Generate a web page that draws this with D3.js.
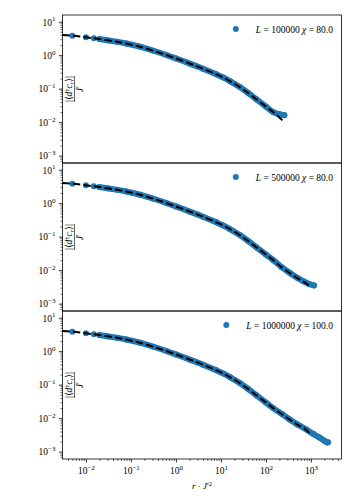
<!DOCTYPE html>
<html>
<head>
<meta charset="utf-8">
<script src="https://cdn.jsdelivr.net/npm/d3@7"></script>
<style>
  body { margin: 0; background: #fff; }
  text { font-family: "Liberation Serif", "DejaVu Serif", serif; fill: #000; }
</style>
</head>
<body>
<div id="chart"></div>
<script>
// shared head of every curve (r, value)
var headR = [0.005, 0.01, 0.015, 0.02, 0.03, 0.05, 0.079, 0.158, 0.316, 0.631, 1, 2, 4, 7.94, 11.2, 15.8, 26.3, 39.8, 61.7, 100, 145]
var headV = [3.82, 3.42, 3.19, 3.02, 2.78, 2.50, 2.23, 1.79, 1.355, 0.993, 0.80, 0.566, 0.395, 0.268, 0.217, 0.169, 0.1117, 0.0753, 0.0482, 0.0293, 0.0200]
var fitStartR = 0.003, fitStartV = 3.98

// data tails per panel
var tailR1 = [200, 257], tailV1 = [0.0172, 0.0162]
var tailR2 = [224, 339, 500, 676, 891, 1175], tailV2 = [0.0123, 0.0083, 0.0059, 0.0047, 0.0039, 0.0035]
var tailR3 = [224, 339, 500, 794, 1122, 1585, 1995, 2290, 2400], tailV3 = [0.0135, 0.0091, 0.0065, 0.0046, 0.0034, 0.0026, 0.0021, 0.00186, 0.0019]

// fit tails per panel
var fitTailR1 = [240], fitTailV1 = [0.011]
var fitTailR2 = [224, 339, 500, 676, 955], fitTailV2 = [0.0121, 0.0082, 0.0058, 0.0046, 0.0033]
var fitTailR3 = [224, 339, 500, 794, 955], fitTailV3 = [0.0133, 0.0090, 0.0064, 0.0044, 0.0034]

var labels = [["100000", "80.0"], ["500000", "80.0"], ["1000000", "100.0"]]
var yMajors = [1e-3, 1e-2, 1e-1, 1, 10]
var xMajors = [1e-2, 1e-1, 1, 10, 100, 1000]
var supers = {"-3": "\u22123", "-2": "\u22122", "-1": "\u22121", "0": "0", "1": "1", "2": "2", "3": "3"}

var margin = {top: 15, left: 62.5},
    width = 279,
    ph = 148;

var svg = d3.select("#chart").append("svg")
  .attr("width", 350).attr("height", 500)

var x = d3.scaleLog().domain([Math.pow(10, -2.52), Math.pow(10, 3.68)]).range([0, width])
var y = d3.scaleLog().domain([Math.pow(10, -3.22), Math.pow(10, 1.2)]).range([ph, 0])

function minors(dom){
  var out = []
  for (var e = -5; e <= 4; e++){
    for (var m = 2; m <= 9; m++){
      var v = m * Math.pow(10, e)
      if (v >= dom[0] && v <= dom[1]) out.push(v)
    }
  }
  return out
}

function pow10(sel, v){
  var e = Math.round(Math.log10(v))
  sel.text("10")
  sel.append("tspan").attr("dy", -4.2).attr("font-size", 7).text(supers[String(e)])
}

var line = d3.line().x(function(d){ return x(d[0]) }).y(function(d){ return y(d[1]) }).curve(d3.curveMonotoneX)

var tails = [[tailR1, tailV1, fitTailR1, fitTailV1], [tailR2, tailV2, fitTailR2, fitTailV2], [tailR3, tailV3, fitTailR3, fitTailV3]]

tails.forEach(function(t, i){
  var g = svg.append("g").attr("transform", "translate(" + margin.left + "," + (margin.top + i * ph) + ")")

  var pts = headR.map(function(r, k){ return [r, headV[k]] })
    .concat(t[0].map(function(r, k){ return [r, t[1][k]] }))
  var fit = [[fitStartR, fitStartV]].concat(headR.map(function(r, k){ return [r, headV[k]] }).filter(function(d){ return d[0] < t[2][0] }))
    .concat(t[2].map(function(r, k){ return [r, t[3][k]] }))

  // y axis majors
  var ya = g.append("g").call(d3.axisLeft(y).tickValues(yMajors).tickSize(3.5).tickPadding(3).tickFormat(""))
  ya.select(".domain").remove()
  ya.selectAll(".tick line").attr("stroke", "#000").attr("stroke-width", 0.8)
  ya.selectAll(".tick").each(function(d){
    var tx = d3.select(this).append("text").attr("x", -7).attr("dy", "0.35em")
      .attr("text-anchor", "end").attr("font-size", 9.5)
    pow10(tx, d)
  })
  var ym = g.append("g").call(d3.axisLeft(y).tickValues(minors(y.domain())).tickSize(2).tickFormat(""))
  ym.select(".domain").remove()
  ym.selectAll(".tick line").attr("stroke", "#000").attr("stroke-width", 0.6)

  // blue data
  g.append("path").datum(pts.filter(function(d){ return d[0] >= 0.02 }))
    .attr("fill", "none").attr("stroke", "#1f77b4").attr("stroke-width", 6)
    .attr("stroke-linecap", "round").attr("stroke-linejoin", "round").attr("d", line)
  g.selectAll(".dot").data(pts).enter().append("circle")
    .attr("cx", function(d){ return x(d[0]) }).attr("cy", function(d){ return y(d[1]) })
    .attr("r", 3).attr("fill", "#1f77b4")

  // fit
  g.append("path").datum(fit).attr("fill", "none").attr("stroke", "#000")
    .attr("stroke-width", 2).attr("stroke-dasharray", "7.4,3.2").attr("d", line)

  // frame
  g.append("rect").attr("width", width).attr("height", ph)
    .attr("fill", "none").attr("stroke", "#000").attr("stroke-width", 0.8)

  // legend
  var lt = g.append("text").attr("x", 333 - margin.left).attr("y", 17.5)
    .attr("text-anchor", "end").attr("font-size", 9.5)
  lt.append("tspan").attr("font-style", "italic").text("L")
  lt.append("tspan").text(" = " + labels[i][0] + " ")
  lt.append("tspan").attr("font-style", "italic").text("\u03c7")
  lt.append("tspan").text(" = " + labels[i][1])
  var tw = lt.node().getComputedTextLength()
  g.append("circle").attr("cx", 333 - margin.left - tw - 20).attr("cy", 14).attr("r", 3).attr("fill", "#1f77b4")

  // y label
  var yl = g.append("g").attr("transform", "translate(12," + (ph / 2) + ") rotate(-90)")
  var num = yl.append("text").attr("y", -2.5).attr("text-anchor", "middle").attr("font-size", 9.5)
  num.append("tspan").text("|\u27e8")
  num.append("tspan").attr("font-style", "italic").text("d")
  num.append("tspan").attr("dy", -3.5).attr("font-size", 6.5).text("\u2020")
  num.append("tspan").attr("dy", 3.5).attr("font-style", "italic").text("c")
  num.append("tspan").attr("dy", 2).attr("font-size", 6.5).attr("font-style", "italic").text("r")
  num.append("tspan").attr("dy", -2).text("\u27e9|")
  var nw = num.node().getComputedTextLength()
  yl.append("line").attr("x1", -nw / 2).attr("x2", nw / 2).attr("stroke", "#000").attr("stroke-width", 0.6)
  var den = yl.append("text").attr("y", 8).attr("text-anchor", "middle").attr("font-size", 9.5)
  den.append("tspan").attr("font-style", "italic").text("J")
  den.append("tspan").text("\u2032")

  if (i === 2){
    var xa = g.append("g").attr("transform", "translate(0," + ph + ")")
      .call(d3.axisBottom(x).tickValues(xMajors).tickSize(3.5).tickFormat(""))
    xa.select(".domain").remove()
    xa.selectAll(".tick line").attr("stroke", "#000").attr("stroke-width", 0.8)
    xa.selectAll(".tick").each(function(d){
      var tx = d3.select(this).append("text").attr("y", 15).attr("text-anchor", "middle").attr("font-size", 9.5)
      pow10(tx, d)
    })
    var xm = g.append("g").attr("transform", "translate(0," + ph + ")")
      .call(d3.axisBottom(x).tickValues(minors(x.domain())).tickSize(2).tickFormat(""))
    xm.select(".domain").remove()
    xm.selectAll(".tick line").attr("stroke", "#000").attr("stroke-width", 0.6)

    var xl = g.append("text").attr("x", width / 2).attr("y", ph + 30).attr("text-anchor", "middle").attr("font-size", 9)
    xl.append("tspan").attr("font-style", "italic").text("r")
    xl.append("tspan").text(" \u00b7 ")
    xl.append("tspan").attr("font-style", "italic").text("J")
    xl.append("tspan").text("\u2032")
    xl.append("tspan").attr("dy", -3.5).attr("font-size", 6.5).text("2")
  }
})
</script>
</body>
</html>
